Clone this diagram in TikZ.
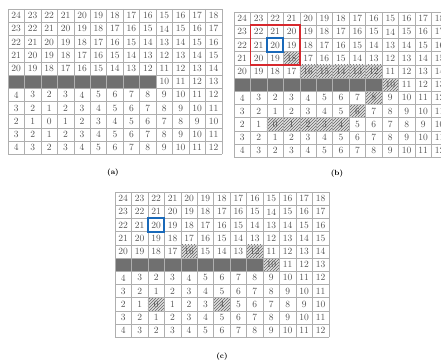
\documentclass[tikz,border=0pt]{standalone}
\usetikzlibrary{patterns}
\definecolor{gridgray}{RGB}{175,175,175}
\definecolor{numgray}{RGB}{80,80,80}
\definecolor{wallgray}{RGB}{112,112,112}
\definecolor{hatchbg}{RGB}{225,225,225}
\definecolor{pathred}{RGB}{215,40,45}
\definecolor{robotblue}{RGB}{25,105,185}

\begin{document}
\begin{tikzpicture}[x=1pt, y=-1pt,
  cellnum/.style={font=\fontsize{9.5}{10}\selectfont, text=numgray, inner sep=0pt},
  hatchcell/.style={fill=hatchbg, postaction={pattern=north east lines, pattern color=black!60}},
  panellabel/.style={font=\bfseries\fontsize{7.5}{8}\selectfont}]
  % 整幅图与参考图同尺寸 441 x 361
  \useasboundingbox (0,0) rectangle (441,361);
  \def\cw{16.45}
  \def\ch{13.2}

  % (b) 中的斜线格（已搜索过的格子）
  \begin{scope}[shift={(234,12)}]
    \foreach \r/\c in {4/4, 5/5, 5/6, 5/7, 5/8, 5/9, 6/10, 7/9, 8/8, 9/3, 9/4, 9/5, 9/6, 9/7}
      \fill[hatchcell] ({(\c-1)*\cw},{(\r-1)*\ch}) rectangle ({\c*\cw},{\r*\ch});
  \end{scope}

  % (c) 中的斜线格
  \begin{scope}[shift={(115,192)}]
    \foreach \r/\c in {5/5, 5/9, 6/10, 9/3, 9/7}
      \fill[hatchcell] ({(\c-1)*\cw},{(\r-1)*\ch}) rectangle ({\c*\cw},{\r*\ch});
  \end{scope}

  % 三个距离栅格：障碍墙、网格线、数字
  \foreach \p/\px/\py/\lx/\ly in {a/8/9/113/173, b/234/12/337/174, c/115/192/222/357} {
    \begin{scope}[shift={(\px,\py)}]
      \fill[wallgray] (0,{5*\ch}) rectangle ({9*\cw},{6*\ch});
      \foreach \i in {0,...,13}
        \draw[gridgray, line width=0.6pt] ({\i*\cw},0) -- ({\i*\cw},{11*\ch});
      \foreach \j in {0,...,11}
        \draw[gridgray, line width=0.6pt] (0,{\j*\ch}) -- ({13*\cw},{\j*\ch});
      \foreach \row [count=\r] in {
          {24,23,22,21,20,19,18,17,16,15,16,17,18},
          {23,22,21,20,19,18,17,16,15,14,15,16,17},
          {22,21,20,19,18,17,16,15,14,13,14,15,16},
          {21,20,19,18,17,16,15,14,13,12,13,14,15},
          {20,19,18,17,16,15,14,13,12,11,12,13,14},
          {-1,-1,-1,-1,-1,-1,-1,-1,-1,10,11,12,13},
          {4,3,2,3,4,5,6,7,8,9,10,11,12},
          {3,2,1,2,3,4,5,6,7,8,9,10,11},
          {2,1,0,1,2,3,4,5,6,7,8,9,10},
          {3,2,1,2,3,4,5,6,7,8,9,10,11},
          {4,3,2,3,4,5,6,7,8,9,10,11,12}}
        \foreach \v [count=\c] in \row {
          \ifnum\v>-1
            \node[cellnum] (\p-\r-\c) at ({(\c-0.5)*\cw},{(\r-0.5)*\ch}) {\v};
          \fi
        };
    \end{scope}
    \node[panellabel] (lab-\p) at (\lx,\ly) {(\p)};
  }

  % (b) 红框：机器人周围 3x3 邻域，蓝框：当前位置
  \begin{scope}[shift={(234,12)}]
    \draw[pathred, line width=1.5pt] ({1*\cw},{1*\ch}) rectangle ({4*\cw},{4*\ch});
    \draw[robotblue, line width=2pt] ({2*\cw},{2*\ch}) rectangle ({3*\cw},{3*\ch});
  \end{scope}

  % (c) 蓝框
  \begin{scope}[shift={(115,192)}]
    \draw[robotblue, line width=2pt] ({2*\cw},{2*\ch}) rectangle ({3*\cw},{3*\ch});
  \end{scope}
\end{tikzpicture}
\end{document}
